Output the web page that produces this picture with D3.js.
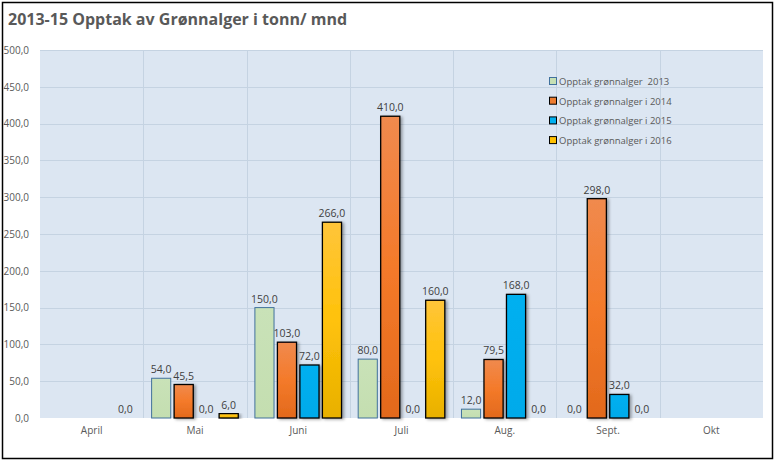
<!DOCTYPE html>
<html><head><meta charset="utf-8">
<script src="https://cdn.jsdelivr.net/npm/d3@7"></script>
<style>body{margin:0;background:#fff}svg{display:block}text{font-family:"Open Sans",sans-serif}</style>
</head><body><svg id="c" width="775" height="462"></svg>
<script>
const months = ["April","Mai","Juni","Juli","Aug.","Sept.","Okt"];
const seriesNames = ["Opptak grønnalger  2013","Opptak grønnalger i 2014","Opptak grønnalger i 2015","Opptak grønnalger i 2016"];
const v2013 = [null, 54, 150, 80, 12, 0, null];
const v2014 = [null, 45.5, 103, 410, 79.5, 298, null];
const v2015 = [null, 0, 72, 0, 168, 32, null];
const v2016 = [0, 6, 266, 160, 0, 0, null];
const yTicks = [0,50,100,150,200,250,300,350,400,450,500];
const title = "2013-15 Opptak av Grønnalger i tonn/ mnd";

const allSeries = [v2013, v2014, v2015, v2016];
const fills = ["url(#gGreen)","url(#gOrange)","url(#gBlue)","url(#gYellow)"];
const strokes = ["#41719c","#000","#000","#000"];
const legendFills = ["#c6e0b4","#ed7d31","#00b0f0","#ffc000"];
const legendStrokes = ["#41719c","#000","#000","#000"];

const svg = d3.select("#c");
const defs = svg.append("defs");
function grad(id, stops){
  const g = defs.append("linearGradient").attr("id",id).attr("x1",0).attr("y1",0).attr("x2",0).attr("y2",1);
  stops.forEach(s=>g.append("stop").attr("offset",s[0]).attr("stop-color",s[1]));
}
grad("gGreen",[[0,"#c9e2b8"],[1,"#c4deb0"]]);
grad("gOrange",[[0,"#f08a4e"],[0.5,"#f47a2a"],[1,"#e2691c"]]);
grad("gBlue",[[0,"#00b0f0"],[1,"#00aaea"]]);
grad("gYellow",[[0,"#ffc53a"],[0.5,"#ffc20a"],[1,"#e8b000"]]);
const f = defs.append("filter").attr("id","sh").attr("x","-30%").attr("y","-10%").attr("width","160%").attr("height","130%");
f.append("feDropShadow").attr("dx",2).attr("dy",1).attr("stdDeviation",1.5).attr("flood-color","#000").attr("flood-opacity",0.35);

// frame
svg.append("rect").attr("x",0).attr("y",0).attr("width",775).attr("height",462).attr("fill","#fff");
svg.append("rect").attr("x",2.5).attr("y",2.5).attr("width",770).attr("height",456).attr("fill","#fff").attr("stroke","#000").attr("stroke-width",1.5);

const L=40, R=763, T=50, B=418;
const y = d3.scaleLinear().domain([0,500]).range([B,T]);
const x0 = d3.scaleBand().domain(months).range([L,R]).paddingInner(0).paddingOuter(0);
const x1 = d3.scaleBand().domain(d3.range(4)).range([0,x0.bandwidth()]).paddingInner(0.15).paddingOuter(0.37);

svg.append("rect").attr("x",L).attr("y",T).attr("width",R-L).attr("height",B-T).attr("fill","#dce6f2");

// grid
svg.append("g").selectAll("line").data(yTicks.slice(1)).join("line")
  .attr("x1",L).attr("x2",R).attr("y1",d=>Math.round(y(d))+0.5).attr("y2",d=>Math.round(y(d))+0.5)
  .attr("stroke","#c5d3e2").attr("stroke-width",1);
svg.append("g").selectAll("line").data(months.slice(1)).join("line")
  .attr("y1",T).attr("y2",B).attr("x1",d=>Math.round(x0(d))+0.5).attr("x2",d=>Math.round(x0(d))+0.5)
  .attr("stroke","#c5d3e2").attr("stroke-width",1);

// y axis labels
const yAxis = d3.axisLeft(y).tickValues(yTicks).tickSize(0).tickPadding(0).tickFormat(d=>d3.format(".1f")(d).replace(".",","));
const ya = svg.append("g").attr("transform",`translate(29,0)`).call(yAxis);
ya.select(".domain").remove();
ya.selectAll("text").attr("fill","#595959").attr("font-size",10).attr("font-family","Open Sans, sans-serif");

// x axis labels
const xAxis = d3.axisBottom(x0).tickSize(0).tickPadding(0);
const xa = svg.append("g").attr("transform",`translate(0,${B+9})`).call(xAxis);
xa.select(".domain").remove();
xa.selectAll("text").attr("fill","#595959").attr("font-size",10).attr("font-family","Open Sans, sans-serif");

// bars
const g = svg.append("g");
allSeries.forEach((vals,si)=>{
  const data = vals.map((v,i)=>({m:months[i],v})).filter(d=>d.v!==null);
  g.selectAll(null).data(data.filter(d=>d.v>0)).join("rect")
    .attr("x",d=>x0(d.m)+x1(si)).attr("width",x1.bandwidth())
    .attr("y",d=>y(d.v)).attr("height",d=>B-y(d.v))
    .attr("fill",fills[si]).attr("stroke",strokes[si]).attr("stroke-width",si===0?1:1.3)
    .attr("filter",si===0?null:"url(#sh)");
  g.selectAll(null).data(data).join("text")
    .attr("x",d=>x0(d.m)+x1(si)+x1.bandwidth()/2).attr("y",d=>y(d.v)-5)
    .attr("text-anchor","middle").attr("font-size",10.5).attr("fill","#404040")
    .text(d=>d3.format(".1f")(d.v).replace(".",","));
});

// legend
const lg = svg.append("g");
seriesNames.forEach((n,i)=>{
  const yy = 82 + i*19.7;
  lg.append("rect").attr("x",549.5).attr("y",yy-4.5).attr("width",7).attr("height",7)
    .attr("fill",legendFills[i]).attr("stroke",legendStrokes[i]).attr("stroke-width",1);
  lg.append("text").attr("x",559).attr("y",yy+3).attr("font-size",9.5).attr("fill","#595959")
    .style("white-space","pre").attr("xml:space","preserve").text(n);
});

// title
svg.append("text").attr("x",8).attr("y",25).attr("font-size",16).attr("font-weight","bold").attr("fill","#595959").text(title);
</script></body></html>
